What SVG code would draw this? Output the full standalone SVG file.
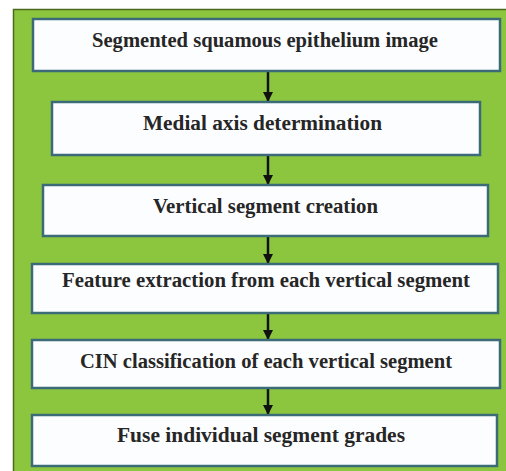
<svg xmlns="http://www.w3.org/2000/svg" width="506" height="471" viewBox="0 0 506 471">
<defs>
<style>
.box{fill:#fcfdff;stroke:#3b6b78;stroke-width:2.5}
.lbl{font-family:'Liberation Serif',serif;font-weight:700;font-size:20px;fill:#262626;text-anchor:middle}
.con{stroke:#111;stroke-width:2.5;fill:none;marker-end:url(#ah)}
</style>
<marker id="ah" viewBox="0 0 10 10" refX="9" refY="5" markerWidth="4" markerHeight="4" orient="auto" markerUnits="strokeWidth">
<path d="M0,0 L10,5 L0,10 z" fill="#111"/>
</marker>
</defs>
<rect x="0" y="0" width="506" height="471" fill="#ffffff"/>
<rect x="13.5" y="9.5" width="500" height="470" fill="#8cc63f" stroke="#4b6a1e" stroke-width="1.5"/>
<g id="connectors">
<line class="con" x1="268" y1="72" x2="268" y2="101"/>
<line class="con" x1="268" y1="156" x2="268" y2="184"/>
<line class="con" x1="268" y1="237" x2="268" y2="263"/>
<line class="con" x1="268" y1="314" x2="268" y2="339"/>
<line class="con" x1="268" y1="389" x2="268" y2="414"/>
</g>
<g id="n1"><rect class="box" x="33" y="19" width="467" height="52"/><text class="lbl" x="265" y="47" textLength="346" lengthAdjust="spacingAndGlyphs">Segmented squamous epithelium image</text></g>
<g id="n2"><rect class="box" x="52" y="102" width="428" height="53"/><text class="lbl" x="262.5" y="130" textLength="239" lengthAdjust="spacingAndGlyphs">Medial axis determination</text></g>
<g id="n3"><rect class="box" x="43" y="185" width="445" height="51"/><text class="lbl" x="265.5" y="213" textLength="225" lengthAdjust="spacingAndGlyphs">Vertical segment creation</text></g>
<g id="n4"><rect class="box" x="32" y="264" width="466" height="49"/><text class="lbl" x="266" y="287" textLength="408" lengthAdjust="spacingAndGlyphs">Feature extraction from each vertical segment</text></g>
<g id="n5"><rect class="box" x="32" y="340" width="468" height="48"/><text class="lbl" x="266" y="368" textLength="372" lengthAdjust="spacingAndGlyphs">CIN classification of each vertical segment</text></g>
<g id="n6"><rect class="box" x="32" y="415" width="465" height="51"/><text class="lbl" x="261" y="442" textLength="288" lengthAdjust="spacingAndGlyphs">Fuse individual segment grades</text></g>
</svg>
